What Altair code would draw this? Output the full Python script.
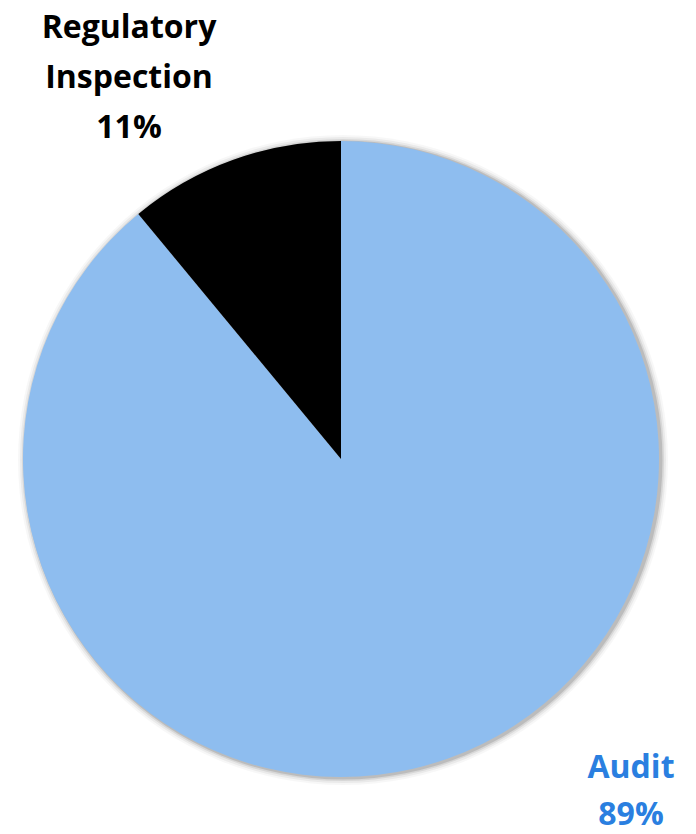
import altair as alt
import pandas as pd

categories = ["Audit", "Regulatory Inspection"]
values = [89, 11]
colors = ["#8EBDEF", "#000000"]

df = pd.DataFrame({"category": categories, "value": values, "order": [0, 1]})

CX, CY, R = 341, 459, 318

base = alt.Chart(df)

shadows = []
for dr, op in [(7, 0.03), (5, 0.05), (3, 0.08), (1.5, 0.12)]:
    shadows.append(
        alt.Chart(pd.DataFrame({"v": [1]})).mark_arc(
            radius=R + dr, color="#000000", opacity=op, theta=0, theta2=6.2832
        ).encode(x=alt.value(CX + 2), y=alt.value(CY + 1))
    )

pie = base.mark_arc(radius=R, stroke=None).encode(
    theta=alt.Theta("value:Q", stack=True),
    order=alt.Order("order:Q"),
    color=alt.Color("category:N", scale=alt.Scale(domain=categories, range=colors), legend=None),
    x=alt.value(CX),
    y=alt.value(CY),
)

lab_reg = alt.Chart(pd.DataFrame({"t": [categories[1]]})).transform_calculate(
    t="['Regulatory', 'Inspection', '" + str(values[1]) + "%']"
).mark_text(
    font="Open Sans", fontWeight="bold", fontSize=32, color="#000000",
    align="center", baseline="middle", lineHeight=50
).encode(text="t:N", x=alt.value(129), y=alt.value(28))

lab_aud = alt.Chart(pd.DataFrame({"t": [categories[0]]})).transform_calculate(
    t="['Audit', '" + str(values[0]) + "%']"
).mark_text(
    font="Open Sans", fontWeight="bold", fontSize=32, color="#2A7FE0",
    align="center", baseline="middle", lineHeight=47
).encode(text="t:N", x=alt.value(631), y=alt.value(768))

chart = alt.layer(*shadows, pie, lab_reg, lab_aud).properties(
    width=696, height=834, padding=0, autosize=alt.AutoSizeParams(type="none")
).configure_view(stroke=None)

chart.save("out.html", embed_options={"renderer": "svg", "actions": False})
